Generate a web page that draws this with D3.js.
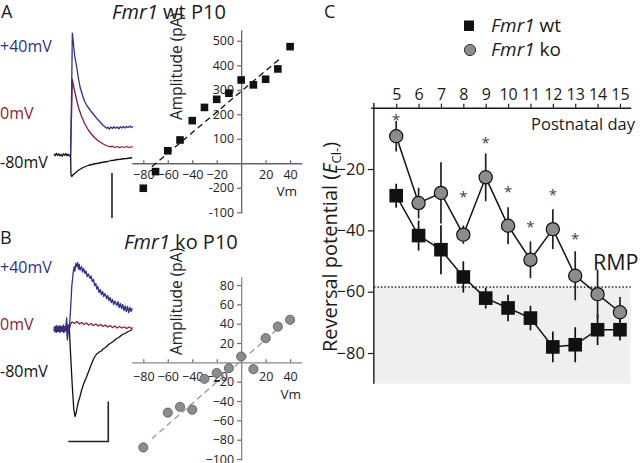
<!DOCTYPE html>
<html>
<head>
<meta charset="utf-8">
<script src="https://cdn.jsdelivr.net/npm/d3@7"></script>
<style>
  html, body { margin: 0; padding: 0; background: #fff; }
  svg { display: block; font-family: "Open Sans", "Liberation Sans", sans-serif; }
</style>
</head>
<body>
<svg id="chart" width="640" height="463"></svg>
<script>
// ---------------- DATA ----------------
// Panel A / B: I-V relations
const ivWtVm  = [-80, -70, -60, -50, -40, -30, -20, -10, 0, 10, 20, 30, 40];
const ivWtAmp = [-102, -34, 51, 95, 174, 228, 261, 286, 340, 320, 343, 385, 476];
const ivKoVm  = [-80, -60, -50, -40, -30, -20, -10, 0, 10, 20, 30, 40];
const ivKoAmp = [-88, -52, -46, -49, -17, -11, -6, 6, -7, 25, 37, 44];
const fitWtVm  = [-73, 32];
const fitWtAmp = [-14, 428];
const fitKoVm  = [-73, 32];
const fitKoAmp = [-79, 37];
const ivXTicks   = [-80, -60, -40, -20, 20, 40];
const ivAYTicks  = [500, 400, 300, 200, 100, -100, -200];
const ivAYLabels = ["500", "400", "300", "200", "100", "-200", "-100"];
const ivBYTicks  = [80, 60, 40, 20, -20, -40, -60, -80, -100];

// Example current traces: [time (ms, arbitrary), current (pA, arbitrary)]
const traceWtPos = [[21,0],[22.5,300],[23.2,487],[24.5,450],[26,400],[28.7,353],[31,305],[33,272],[36,240],[39,213],[42,196],[45.6,180],[50,163],[54,147],[58,133],[62.4,118],[66.7,107],[68,111],[70,104],[72,112],[74,106],[76,113],[78,107],[80,112],[82,105],[84,113],[86,108],[88,114],[90,108],[92,114],[94,110],[96,116],[98,110],[100,114]];
const traceWt0   = [[21,0],[22.5,200],[23.2,303],[25,272],[28.7,220],[31,190],[35,153],[39,125],[43.4,100],[47,85],[51.9,68],[56,57],[62.4,44],[66,38],[70.9,33],[74,35],[77,30],[80,34],[83,29],[86,33],[89,30],[92,34],[95,30],[98,33],[100,31]];
const traceWtNeg = [[0,4],[1.5,-3],[3,7],[4.5,-2],[6,5],[7.5,-4],[9,3],[10.5,-5],[12,5],[13.5,-2],[15,6],[16.5,-3],[18,3],[19.5,-4],[21,2],[21.5,-80],[22.4,-86],[24,-80],[26,-74],[28.7,-67],[31,-61],[34,-55],[37,-50],[40,-46],[44,-41],[48,-38],[52,-35],[56,-33],[60,-30],[64,-28],[68,-26],[72,-22],[76,-21],[80,-18],[84,-17],[88,-15],[92,-14],[96,-12],[99,-11]];
const traceKoPos = [[0,4],[1.5,-6],[3,7],[4.5,-4],[6,6],[7.5,-7],[9,5],[10.5,-5],[12,8],[13.5,-6],[15,4],[16,22],[17,-22],[18,8],[19.4,0],[21,40],[22.5,85],[24.4,114],[25.5,124],[26.5,116],[27.5,131],[28.7,125],[30,133],[31,120],[32,129],[33,118],[35,125],[36,114],[37.5,121],[39.2,111],[40.5,116],[42,105],[43.5,110],[45.6,101],[47,106],[48.5,95],[50,99],[51.5,87],[53,91],[54,80],[55.5,85],[57,73],[58.5,79],[60,69],[61.5,75],[63,65],[64.5,71],[66.7,61],[68,67],[69.5,57],[71,63],[72.5,53],[74,59],[75.5,49],[77,56],[79.4,47],[81,55],[82.5,43],[84,51],[85.5,41],[87,49],[88.5,37],[90,46],[91.5,35],[93,45],[94.5,33],[96,43],[97.5,35],[99,42]];
const traceKo0   = [[0,-3],[2,4],[4,-4],[6,3],[8,-5],[10,4],[12,-3],[14,5],[16,-4],[18,3],[19.4,0],[21,10],[23,14],[26,11],[29,15],[32,10],[35,13],[38,9],[41,12],[44,8],[47,11],[50,7],[53,10],[56,6],[59,9],[62,5],[65,8],[68,4],[71,7],[74,3],[77,6],[80,2],[83,5],[86,2],[89,4],[92,1],[95,4],[98,1],[100,3]];
const traceKoNeg = [[0,-4],[1.5,5],[3,-6],[4.5,4],[6,-5],[7.5,6],[9,-4],[10.5,5],[12,-6],[13.5,4],[15,-3],[16,12],[17,-18],[18,6],[19.4,0],[21,-50],[23,-110],[25,-160],[26.6,-175],[28,-168],[29.5,-155],[31,-145],[32.9,-135],[35,-122],[37,-112],[39,-104],[41.4,-95],[44,-84],[46,-76],[48,-68],[50,-60],[51.9,-55],[54,-50],[56,-48],[58,-45],[60,-44],[62,-40],[64,-38],[66.7,-35],[69,-31],[71,-29],[73,-27],[75,-25],[77,-22],[79.4,-19],[82,-17],[85,-13],[88,-10],[91,-8],[94,-5],[97,-3],[99,-1]];
const scaleBarA = {t: [73.4, 73.4], i: [-72, -252]};
const scaleBarB = {t: [18.1, 68.7, 68.7], i: [-225, -225, -145]};
const traceLabels = ["+40mV", "0mV", "-80mV"];

// Panel C: reversal potential vs postnatal day
const days   = [5, 6, 7, 8, 9, 10, 11, 12, 13, 14, 15];
const wtMean = [-28.7, -41.7, -46.3, -55.2, -62.1, -65.3, -68.6, -78.0, -77.3, -72.4, -72.4];
const wtErr  = [3.9, 4.9, 8, 5.1, 3.4, 4.3, 4, 5, 5.7, 5, 3.5];
const koMean = [-9.3, -31.1, -27.8, -41.4, -22.7, -38.5, -49.6, -39.6, -54.8, -60.8, -66.7];
const koErr  = [5, 5, 10, 3, 7.8, 6, 6, 6.5, 8, 8, 5];
const sigDays = [5, 8, 9, 10, 11, 12, 13];
const sigPos  = [-2.8, -28.0, -10.4, -26.4, -37.8, -27.4, -41.7];
const cYTicks = [-20, -40, -60, -80];
const rmpValue = -58.5;

// ---------------- DRAWING ----------------
const svg = d3.select("#chart");
const ink = "#1a1a1a";

function italicLabel(sel, pre, rest) {
  sel.append("tspan").attr("font-style", "italic").text(pre);
  sel.append("tspan").text(rest);
}

// Panel letters
svg.append("text").attr("x", 1).attr("y", 18).attr("font-size", 18).attr("fill", ink).text("A");
svg.append("text").attr("x", 0).attr("y", 244).attr("font-size", 18).attr("fill", ink).text("B");
svg.append("text").attr("x", 324).attr("y", 18).attr("font-size", 18).attr("fill", ink).text("C");

// Titles
italicLabel(svg.append("text").attr("x", 112).attr("y", 18.5).attr("font-size", 20).attr("fill", ink), "Fmr1", " wt P10");
italicLabel(svg.append("text").attr("x", 124).attr("y", 248.5).attr("font-size", 20).attr("fill", ink), "Fmr1", " ko P10");

// ---- Traces ----
const tX = d3.scaleLinear().domain([0, 100]).range([54, 133]);
const yTrA = d3.scaleLinear().domain([0, 500]).range([155, 30]);
const yTrB = d3.scaleLinear().domain([0, 100]).range([329, 279]);
const traceColors = ["#30308f", "#8a1d3c", "#111"];

function drawTraces(traces, yS) {
  const line = d3.line().x(d => tX(d[0])).y(d => yS(d[1]));
  [2, 1, 0].forEach(k => {
    svg.append("path").attr("d", line(traces[k])).attr("fill", "none")
      .attr("stroke", traceColors[k]).attr("stroke-width", 1.3).attr("stroke-linejoin", "round");
  });
}
drawTraces([traceWtPos, traceWt0, traceWtNeg], yTrA);
drawTraces([traceKoPos, traceKo0, traceKoNeg], yTrB);

const sbLine = d3.line();
svg.append("path").attr("d", sbLine(scaleBarA.t.map((t, i) => [tX(t), yTrA(scaleBarA.i[i])])))
  .attr("fill", "none").attr("stroke", "#222").attr("stroke-width", 1.6);
svg.append("path").attr("d", sbLine(scaleBarB.t.map((t, i) => [tX(t), yTrB(scaleBarB.i[i])])))
  .attr("fill", "none").attr("stroke", "#222").attr("stroke-width", 1.6);

const labelYA = [52, 119, 168];
const labelYB = [273, 330, 377];
traceLabels.forEach((lab, k) => {
  svg.append("text").attr("x", 0).attr("y", labelYA[k]).attr("font-size", 16).attr("fill", traceColors[k]).text(lab);
  svg.append("text").attr("x", 0).attr("y", labelYB[k]).attr("font-size", 16).attr("fill", traceColors[k]).text(lab);
});

// ---- IV plots ----
const xIV = d3.scaleLinear().domain([-89.5, 49.5]).range([131.7, 301.7]);
const yA = d3.scaleLinear().domain([-203, 544]).range([213, 30]);
const yB = d3.scaleLinear().domain([-101, 88.6]).range([460, 276.7]);
const axisCol = "#666";

function styleAxis(g, fs) {
  g.selectAll("path.domain").attr("stroke", axisCol).attr("stroke-width", 1.3);
  g.selectAll(".tick line").attr("stroke", axisCol).attr("stroke-width", 1.2);
  g.selectAll(".tick text").attr("fill", "#222");
  g.attr("font-family", null).attr("font-size", fs);
}

// A axes
const gAx = svg.append("g").attr("transform", `translate(0,${yA(0)})`)
  .call(d3.axisBottom(xIV).tickValues(ivXTicks).tickSizeInner(-3).tickSizeOuter(0).tickPadding(7).tickFormat(d3.format("d")));
styleAxis(gAx, 12.5);
const gAy = svg.append("g").attr("transform", `translate(${xIV(0)},0)`)
  .call(d3.axisLeft(yA).tickValues(ivAYTicks).tickSize(4).tickSizeOuter(0).tickPadding(3)
    .tickFormat((d, i) => ivAYLabels[i]));
styleAxis(gAy, 12.5);

// A fit + points
svg.append("line").attr("x1", xIV(fitWtVm[0])).attr("y1", yA(fitWtAmp[0]))
  .attr("x2", xIV(fitWtVm[1])).attr("y2", yA(fitWtAmp[1]))
  .attr("stroke", "#111").attr("stroke-width", 1.3).attr("stroke-dasharray", "6,4");
svg.append("g").selectAll("rect").data(ivWtVm).join("rect")
  .attr("x", (d) => xIV(d) - 3.8).attr("y", (d, i) => yA(ivWtAmp[i]) - 3.8)
  .attr("width", 7.6).attr("height", 7.6).attr("fill", "#111");

svg.append("text").attr("x", 297).attr("y", 195.5).attr("text-anchor", "end").attr("font-size", 13.5).attr("fill", "#222").text("Vm");
svg.append("text").attr("transform", "translate(181.5,120) rotate(-90)").attr("font-size", 15.5).attr("fill", "#222").text("Amplitude (pA)");

// B axes
const gBx = svg.append("g").attr("transform", `translate(0,${yB(0)})`)
  .call(d3.axisBottom(xIV).tickValues(ivXTicks).tickSizeInner(-3).tickSizeOuter(0).tickPadding(10).tickFormat(d3.format("d")));
styleAxis(gBx, 12.5);
gBx.selectAll("path.domain").attr("stroke", "#888");
const gBy = svg.append("g").attr("transform", `translate(${xIV(0)},0)`)
  .call(d3.axisLeft(yB).tickValues(ivBYTicks).tickSize(4).tickSizeOuter(0).tickPadding(3).tickFormat(d3.format("d")));
styleAxis(gBy, 12.5);
gBy.selectAll("path.domain").attr("stroke", "#888");

svg.append("line").attr("x1", xIV(fitKoVm[0])).attr("y1", yB(fitKoAmp[0]))
  .attr("x2", xIV(fitKoVm[1])).attr("y2", yB(fitKoAmp[1]))
  .attr("stroke", "#999").attr("stroke-width", 1.3).attr("stroke-dasharray", "6,4");
svg.append("g").selectAll("circle").data(ivKoVm).join("circle")
  .attr("cx", d => xIV(d)).attr("cy", (d, i) => yB(ivKoAmp[i])).attr("r", 4.6)
  .attr("fill", "#8c8c8c").attr("stroke", "#555").attr("stroke-width", 0.8);

svg.append("text").attr("x", 301).attr("y", 399).attr("text-anchor", "end").attr("font-size", 13.5).attr("fill", "#222").text("Vm");
svg.append("text").attr("transform", "translate(181.5,355) rotate(-90)").attr("font-size", 15.5).attr("fill", "#222").text("Amplitude (pA)");

// ---- Panel C ----
const xC = d3.scaleLinear().domain([3.86, 15.48]).range([370.7, 630.7]);
const yC = d3.scaleLinear().domain([-90, 0]).range([383.7, 107.7]);

svg.append("rect").attr("x", xC(4)).attr("y", yC(rmpValue))
  .attr("width", xC(15.48) - xC(4)).attr("height", yC(-90) - yC(rmpValue)).attr("fill", "#efefef");
svg.append("line").attr("x1", xC(4)).attr("x2", xC(15.48)).attr("y1", yC(rmpValue)).attr("y2", yC(rmpValue))
  .attr("stroke", "#222").attr("stroke-width", 1.5).attr("stroke-dasharray", "1.5,2");

const gCx = svg.append("g").attr("transform", `translate(0,${yC(0)})`)
  .call(d3.axisTop(xC).tickValues(days).tickSize(4).tickSizeOuter(0).tickPadding(4).tickFormat(d3.format("d")));
gCx.selectAll("path.domain").attr("stroke", ink).attr("stroke-width", 1.4);
gCx.selectAll(".tick line").attr("stroke", ink).attr("stroke-width", 1.2);
gCx.attr("font-family", null).attr("font-size", 16);
gCx.selectAll(".tick text").attr("fill", ink);

const gCy = svg.append("g").attr("transform", `translate(${xC(4)},0)`)
  .call(d3.axisLeft(yC).tickValues(cYTicks).tickSize(6).tickSizeOuter(0).tickPadding(3).tickFormat(d3.format("d")));
gCy.select("path.domain").attr("d", `M0,${yC(1.5)}V${yC(-90)}`);
gCy.selectAll("path.domain").attr("stroke", ink).attr("stroke-width", 1.4);
gCy.selectAll(".tick line").attr("stroke", ink).attr("stroke-width", 1.2);
gCy.attr("font-family", null).attr("font-size", 16.5);
gCy.selectAll(".tick text").attr("fill", ink);

svg.append("text").attr("x", 635).attr("y", 130).attr("text-anchor", "end").attr("font-size", 16.5).attr("fill", ink).text("Postnatal day");

// Y label
const yl = svg.append("text").attr("transform", "translate(337,247) rotate(-90)")
  .attr("text-anchor", "middle").attr("font-size", 20).attr("fill", ink);
yl.append("tspan").text("Reversal potential (");
yl.append("tspan").attr("font-style", "italic").text("E");
yl.append("tspan").attr("font-size", 13).attr("dy", 4).text("Cl-");
yl.append("tspan").attr("dy", -4).text(")");

// Error bars
function errBars(mean, err, col) {
  svg.append("g").selectAll("line").data(days).join("line")
    .attr("x1", d => xC(d)).attr("x2", d => xC(d))
    .attr("y1", (d, i) => yC(mean[i] + err[i])).attr("y2", (d, i) => yC(mean[i] - err[i]))
    .attr("stroke", col).attr("stroke-width", 1.7);
}
errBars(wtMean, wtErr, "#111");
errBars(koMean, koErr, "#222");

const lineC = d3.line().x((d, i) => xC(days[i])).y(d => yC(d));
svg.append("path").attr("d", lineC(wtMean)).attr("fill", "none").attr("stroke", "#111").attr("stroke-width", 1.5);
svg.append("path").attr("d", lineC(koMean)).attr("fill", "none").attr("stroke", "#111").attr("stroke-width", 1.5);

svg.append("g").selectAll("rect").data(days).join("rect")
  .attr("x", d => xC(d) - 6.8).attr("y", (d, i) => yC(wtMean[i]) - 6.8)
  .attr("width", 13.6).attr("height", 13.6).attr("fill", "#111");
svg.append("g").selectAll("circle").data(days).join("circle")
  .attr("cx", d => xC(d)).attr("cy", (d, i) => yC(koMean[i])).attr("r", 6.6)
  .attr("fill", "#8c8c8c").attr("stroke", "#111").attr("stroke-width", 1.2);

// Significance asterisks
svg.append("g").selectAll("text").data(sigDays).join("text")
  .attr("x", d => xC(d)).attr("y", (d, i) => yC(sigPos[i]) + 8.5)
  .attr("text-anchor", "middle").attr("font-size", 15).attr("fill", "#444").text("*");

// RMP
svg.append("text").attr("x", 593).attr("y", 270).attr("font-size", 21.5).attr("fill", ink).text("RMP");

// Legend
svg.append("rect").attr("x", 464).attr("y", 20.5).attr("width", 10).attr("height", 10.5).attr("fill", "#111");
italicLabel(svg.append("text").attr("x", 491).attr("y", 31.5).attr("font-size", 19).attr("fill", ink), "Fmr1", " wt");
svg.append("circle").attr("cx", 470).attr("cy", 50).attr("r", 5.6).attr("fill", "#8c8c8c").attr("stroke", "#333").attr("stroke-width", 1);
italicLabel(svg.append("text").attr("x", 491).attr("y", 55.5).attr("font-size", 19).attr("fill", ink), "Fmr1", " ko");
</script>
</body>
</html>
